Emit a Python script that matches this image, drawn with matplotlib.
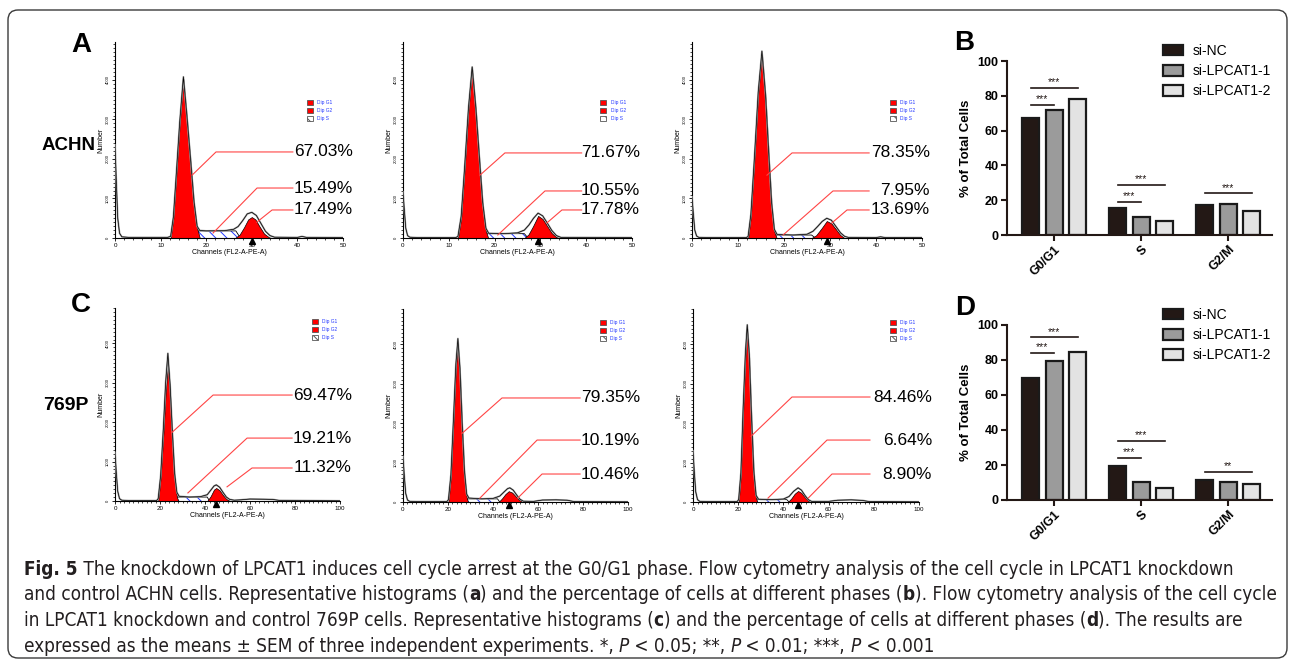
import numpy as np
import matplotlib.pyplot as plt
from matplotlib.patches import Rectangle, FancyBboxPatch
from matplotlib.transforms import IdentityTransform
from matplotlib.ticker import MultipleLocator
from matplotlib import font_manager

plt.rcParams['font.family'] = ['Liberation Sans', 'DejaVu Sans']
plt.rcParams['hatch.linewidth'] = 0.7

# ---- bar chart data (% of total cells) ----
phases = ['G0/G1', 'S', 'G2/M']
groups = ['si-NC', 'si-LPCAT1-1', 'si-LPCAT1-2']
achn_nc = [67.03, 15.49, 17.49]
achn_l1 = [71.67, 10.55, 17.78]
achn_l2 = [78.35, 7.95, 13.69]
p769_nc = [69.47, 19.21, 11.32]
p769_l1 = [79.35, 10.19, 10.46]
p769_l2 = [84.46, 6.64, 8.90]
# significance bars: (phase index, bar i, bar j, height, stars)
achn_sig = [(0, 0, 1, 75, '***'), (0, 0, 2, 84.5, '***'), (1, 0, 1, 19, '***'),
            (1, 0, 2, 29, '***'), (2, 0, 2, 24, '***')]
p769_sig = [(0, 0, 1, 84, '***'), (0, 0, 2, 93, '***'), (1, 0, 1, 24, '***'),
            (1, 0, 2, 33.7, '***'), (2, 0, 2, 16, '**')]

# ---- flow cytometry histograms (channel, count) ----
a1_outline = [(0,2350),(0.3,1400),(0.6,500),(1.0,120),(1.5,30),(3,15),(11.5,15),(12.2,40),(12.8,530),
              (13.4,1550),(14.2,2950),(15.0,4080),(15.8,3050),(16.6,1950),(17.3,950),(18.0,300),(18.6,190),
              (20,180),(24,185),(26,220),(27,290),(28,440),(29,610),(30,650),(31,570),(32,370),(33,170),
              (34,60),(35,20),(40,15),(41,40),(42,15),(50,10)]
a1_g1 = [(12.2,0),(12.8,500),(13.4,1500),(14.2,2900),(15.0,4030),(15.8,3000),(16.6,1900),(17.3,900),(18.0,250),(18.6,0)]
a1_s = [(17.0,0),(17.8,180),(26.5,180),(27.5,0)]
a1_g2 = [(26.3,0),(27.3,80),(28.3,270),(29.2,470),(30.0,530),(30.8,470),(31.7,290),(32.7,110),(33.8,15),(34.5,0)]

a2_outline = [(0,1160),(0.3,700),(0.6,250),(1.0,60),(1.5,20),(3,10),(11.5,10),(12.0,40),(12.7,550),(13.4,1700),
              (14.3,3300),(15.1,4330),(15.9,3300),(16.7,2000),(17.4,900),(18.1,250),(18.7,120),(22,110),(25,130),
              (26.5,200),(27.5,330),(28.5,500),(29.5,630),(30.5,560),(31.5,380),(32.5,190),(33.5,60),(34.5,15),(50,10)]
a2_g1 = [(12.0,0),(12.7,500),(13.4,1650),(14.3,3250),(15.1,4280),(15.9,3250),(16.7,1950),(17.4,850),(18.1,180),(18.6,0)]
a2_s = [(17.2,0),(18.0,110),(26.5,110),(27.3,0)]
a2_g2 = [(26.5,0),(27.4,90),(28.4,300),(29.5,560),(30.5,480),(31.5,300),(32.5,120),(33.5,20),(34.2,0)]

a3_outline = [(0,1040),(0.3,600),(0.6,200),(1.0,50),(1.5,15),(3,10),(11.8,10),(12.2,40),(12.8,600),(13.5,1900),
              (14.4,3700),(15.2,4730),(16.0,3600),(16.7,2100),(17.3,900),(17.9,220),(18.5,90),(22,75),(25,95),
              (26.3,170),(27.3,290),(28.3,420),(29.3,500),(30.3,450),(31.3,290),(32.3,130),(33.2,40),(34,15),
              (40,10),(41,30),(42,10),(50,10)]
a3_g1 = [(12.2,0),(12.8,550),(13.5,1850),(14.4,3650),(15.2,4680),(16.0,3550),(16.7,2050),(17.3,850),(17.9,160),(18.4,0)]
a3_s = [(17.5,0),(18.2,75),(26.0,75),(26.8,0)]
a3_g2 = [(26.0,0),(27.0,70),(28.2,250),(29.3,430),(30.3,370),(31.3,220),(32.2,80),(33.0,10),(33.5,0)]

c1_outline = [(0,1230),(0.6,700),(1.2,250),(2.0,60),(3,20),(6,10),(18.5,10),(19.2,60),(20.3,650),(21.5,1850),
              (22.5,3000),(23.5,3750),(24.5,2950),(25.5,1750),(26.5,700),(27.5,220),(28.5,120),(33,100),(38,110),
              (41,160),(42.5,270),(44,380),(45,410),(46.5,350),(48,220),(49.5,100),(51,40),(53,20),(56,30),
              (60,50),(66,45),(70,40),(73,15),(100,5)]
c1_g1 = [(19.2,0),(20.3,600),(21.5,1700),(22.5,2750),(23.5,3450),(24.5,2700),(25.5,1600),(26.5,600),(27.5,100),(28.2,0)]
c1_s = [(26.5,0),(27.5,100),(41,100),(42,0)]
c1_g2 = [(41,0),(42.5,120),(44,290),(45,330),(46.5,270),(48,150),(49.5,50),(51,5),(51.5,0)]

c2_outline = [(0,1150),(0.6,650),(1.2,220),(2.0,50),(3,15),(6,10),(19.5,10),(20.2,60),(21.3,700),(22.5,2200),
              (23.5,3500),(24.4,4150),(25.3,3400),(26.3,2000),(27.3,800),(28.3,200),(29.3,100),(35,80),(40,90),
              (43,150),(45,260),(46.5,340),(47.5,360),(49,300),(50.5,180),(52,70),(53.5,20),(58,15),(62,50),
              (68,55),(73,45),(76,10),(100,5)]
c2_g1 = [(20.2,0),(21.3,650),(22.5,2100),(23.5,3400),(24.4,4020),(25.3,3300),(26.3,1900),(27.3,700),(28.3,120),(28.9,0)]
c2_s = [(27.8,0),(28.8,80),(42,80),(43,0)]
c2_g2 = [(42.5,0),(44,90),(45.5,200),(47,275),(48.5,240),(50,150),(51.5,60),(53,5),(53.5,0)]

c3_outline = [(0,1300),(0.6,750),(1.2,260),(2.0,60),(3,15),(6,10),(19.5,10),(20.2,60),(21.2,750),(22.2,2400),
              (23.2,3800),(24.0,4500),(24.9,3750),(25.9,2150),(26.9,800),(27.9,170),(29,70),(35,60),(40,75),
              (42.5,140),(44.5,270),(46.5,360),(48,300),(49.5,170),(51,60),(52.5,15),(60,15),(64,45),(70,55),
              (75,40),(78,10),(100,5)]
c3_g1 = [(20.2,0),(21.2,700),(22.2,2300),(23.2,3700),(24.0,4400),(24.9,3650),(25.9,2050),(26.9,700),(27.9,100),(28.4,0)]
c3_s = [(27.5,0),(28.5,60),(41.5,60),(42.5,0)]
c3_g2 = [(42,0),(43.5,90),(45,210),(46.5,280),(48,230),(49.5,120),(51,30),(51.8,0)]

W, H = 1295, 666
fig = plt.figure(figsize=(W / 100, H / 100), dpi=100)


def px_axes(left, top, right, bottom):
    return fig.add_axes([left / W, 1 - bottom / H, (right - left) / W, (bottom - top) / H])


def histo(rect, xmax, ymax, outline, g1, s, g2, vals, leaders, line_end, text_right, leg_xy):
    ax = px_axes(*rect)
    sx, sy = zip(*s)
    ax.fill_between(sx, sy, facecolor='white', edgecolor='#2438ff', hatch='\\\\\\', lw=0, zorder=1)
    ax.plot(sx, sy, color='black', lw=0.6, zorder=1.5)
    for comp in (g1, g2):
        cx, cy = zip(*comp)
        ax.fill_between(cx, cy, facecolor='#ff0000', edgecolor='black', lw=0.5, zorder=2)
    ox, oy = zip(*outline)
    ax.plot(ox, oy, color='#a0a0a0', lw=1.3, zorder=3, solid_joinstyle='round')
    ax.plot(ox, oy, color='black', lw=0.5, zorder=4)
    gx, gy = zip(*g2)
    ax.plot([gx[int(np.argmax(gy))]], [-0.016 * ymax], marker='^', color='black', ms=5,
            clip_on=False, zorder=6)

    ax.set_xlim(0, xmax)
    ax.set_ylim(0, ymax)
    for sp in ['top', 'right']:
        ax.spines[sp].set_visible(False)
    for sp in ['left', 'bottom']:
        ax.spines[sp].set_linewidth(0.8)
    ax.xaxis.set_major_locator(MultipleLocator(xmax / 5))
    ax.xaxis.set_minor_locator(MultipleLocator(2))
    ax.yaxis.set_major_locator(MultipleLocator(1000))
    ax.yaxis.set_minor_locator(MultipleLocator(100))
    ax.tick_params(axis='x', which='major', labelsize=4.5, length=2.5, width=0.6, pad=1)
    ax.tick_params(axis='y', which='major', labelsize=3, length=2.5, width=0.6, pad=1, labelrotation=90)
    ax.tick_params(which='minor', length=1.2, width=0.5)
    for lbl in ax.get_yticklabels():
        lbl.set_va('center')
    ax.set_xlabel('Channels (FL2-A-PE-A)', fontsize=5, labelpad=0.5)
    ax.set_ylabel('Number', fontsize=5, labelpad=1)

    # small model legend
    lx, ly = leg_xy
    rw, rh = 6 / (rect[2] - rect[0]), 5 / (rect[3] - rect[1])
    dy = 8 / (rect[3] - rect[1])
    for i, (name, fc, hat) in enumerate([('Dip G1', '#ff0000', None), ('Dip G2', '#ff0000', None),
                                          ('Dip S', 'white', '\\\\\\')]):
        yy = ly - i * dy
        ax.add_patch(Rectangle((lx, yy - rh / 2), rw, rh, transform=ax.transAxes, facecolor=fc,
                               edgecolor='#555555', lw=0.6, hatch=hat, clip_on=False, zorder=5))
        ax.text(lx + rw + 0.02, yy, name, transform=ax.transAxes, fontsize=3.5, color='#2438ff',
                va='center', ha='left')

    inv = ax.transAxes.inverted()
    for (sx0, sy0, ex, ey), v in zip(leaders, vals):
        st = inv.transform(ax.transData.transform((sx0, sy0)))
        ax.plot([st[0], ex, line_end], [st[1], ey, ey], transform=ax.transAxes,
                color='#ff4545', lw=0.8, clip_on=False, zorder=7)
        ax.text(text_right, ey, f'{v:.2f}%', transform=ax.transAxes, ha='right', va='center',
                fontsize=12.5, color='black')
    return ax


def bars(rect, nc, l1, l2, sig):
    ax = px_axes(*rect)
    x = np.arange(len(phases))
    offs = [-0.27, 0, 0.27]
    cols = ['#231815', '#9b9b9b', '#e3e3e3']
    for vals, off, col, lab in zip([nc, l1, l2], offs, cols, groups):
        ax.bar(x + off, vals, 0.195, color=col, edgecolor='#1a1a1a', lw=1.6, label=lab, zorder=2)
    for g, i, j, y, txt in sig:
        ax.plot([g + offs[i], g + offs[j]], [y, y], color='#231815', lw=1.2)
        ax.text((2 * g + offs[i] + offs[j]) / 2, y + 0.3, txt, ha='center', va='bottom',
                fontsize=7.5, color='#231815')
    ax.set_xlim(-0.54, 2.5)
    ax.set_ylim(0, 100)
    ax.set_yticks(range(0, 101, 20))
    ax.set_xticks(x)
    ax.set_xticklabels(phases, rotation=45, ha='right', rotation_mode='anchor')
    for sp in ['top', 'right']:
        ax.spines[sp].set_visible(False)
    for sp in ['left', 'bottom']:
        ax.spines[sp].set_linewidth(1.5)
        ax.spines[sp].set_color('#231815')
    ax.tick_params(length=4, width=1.5, labelsize=9, pad=2, color='#231815')
    for lbl in ax.get_xticklabels() + ax.get_yticklabels():
        lbl.set_fontweight('bold')
    ax.set_ylabel('% of Total Cells', fontsize=9.5, fontweight='bold', labelpad=4)
    ax.legend(loc='upper left', bbox_to_anchor=(0.589, 1.098), frameon=False, fontsize=10,
              handlelength=1.45, handleheight=0.8, handletextpad=0.7, labelspacing=0.45,
              borderpad=0, borderaxespad=0)
    return ax


# row A / B : ACHN
histo((115, 42, 343, 238), 50, 4960, a1_outline, a1_g1, a1_s, a1_g2,
      [achn_nc[0], achn_nc[1], achn_nc[2]],
      [(16.9, 1590, 0.443, 0.439), (21.5, 126, 0.623, 0.255), (31.1, 400, 0.689, 0.143)],
      0.78, 1.044, (0.84, 0.69))
histo((403, 42, 632, 238), 50, 4960, a2_outline, a2_g1, a2_s, a2_g2,
      [achn_l1[0], achn_l1[1], achn_l1[2]],
      [(16.8, 1590, 0.445, 0.434), (20.7, 76, 0.62, 0.24), (31.4, 380, 0.694, 0.143)],
      0.78, 1.035, (0.86, 0.69))
histo((692, 42, 922, 238), 50, 4960, a3_outline, a3_g1, a3_s, a3_g2,
      [achn_l2[0], achn_l2[1], achn_l2[2]],
      [(16.3, 1590, 0.435, 0.434), (19.8, 76, 0.613, 0.24), (30.4, 380, 0.674, 0.143)],
      0.77, 1.035, (0.86, 0.69))
bars((1007, 61, 1272, 235), achn_nc, achn_l1, achn_l2, achn_sig)

# row C / D : 769P
histo((115, 308, 340, 501), 100, 4900, c1_outline, c1_g1, c1_s, c1_g2,
      [p769_nc[0], p769_nc[1], p769_nc[2]],
      [(25.3, 1740, 0.436, 0.549), (32.4, 205, 0.587, 0.326), (49.8, 360, 0.609, 0.171)],
      0.787, 1.053, (0.875, 0.93))
histo((403, 309, 628, 502), 100, 4900, c2_outline, c2_g1, c2_s, c2_g2,
      [p769_l1[0], p769_l1[1], p769_l1[2]],
      [(26.2, 1740, 0.44, 0.539), (34.2, 100, 0.596, 0.321), (51, 100, 0.618, 0.145)],
      0.787, 1.053, (0.875, 0.93))
histo((693, 309, 919, 502), 100, 4900, c3_outline, c3_g1, c3_s, c3_g2,
      [p769_l2[0], p769_l2[1], p769_l2[2]],
      [(25.7, 1670, 0.438, 0.544), (33.2, 100, 0.593, 0.321), (51, 100, 0.615, 0.145)],
      0.783, 1.058, (0.87, 0.93))
bars((1007, 325, 1272, 500), p769_nc, p769_l1, p769_l2, p769_sig)

# panel letters and cell line names
for s, x, y in [('A', 81, 45), ('B', 964, 43), ('C', 81, 305), ('D', 965, 308)]:
    fig.text(x / W, 1 - y / H, s, fontsize=20, fontweight='bold', ha='center', va='center')
fig.text(96 / W, 1 - 145 / H, 'ACHN', fontsize=13.5, fontweight='bold', ha='right', va='center')
fig.text(89 / W, 1 - 405 / H, '769P', fontsize=14, fontweight='bold', ha='right', va='center')

# rounded frame
fig.patches.append(FancyBboxPatch((8, H - 658), 1279, 648, boxstyle='round,pad=0,rounding_size=10',
                                  transform=IdentityTransform(), fill=False, edgecolor='#3a3a3a', lw=1))

# caption with mixed weights (narrow face when one is installed)
names = {f.name for f in font_manager.fontManager.ttflist}
cap_font = 'Liberation Sans Narrow' if 'Liberation Sans Narrow' in names else 'DejaVu Sans'
cap_col = '#231f20'
R, B, I = ('normal', 'normal'), ('bold', 'normal'), ('normal', 'italic')
caption = [
    [('Fig. 5', B), (' The knockdown of LPCAT1 induces cell cycle arrest at the G0/G1 phase. Flow cytometry '
                     'analysis of the cell cycle in LPCAT1 knockdown', R)],
    [('and control ACHN cells. Representative histograms (', R), ('a', B),
     (') and the percentage of cells at different phases (', R), ('b', B),
     ('). Flow cytometry analysis of the cell cycle', R)],
    [('in LPCAT1 knockdown and control 769P cells. Representative histograms (', R), ('c', B),
     (') and the percentage of cells at different phases (', R), ('d', B), ('). The results are', R)],
    [('expressed as the means \u00b1 SEM of three independent experiments. *, ', R), ('P', I),
     (' < 0.05; **, ', R), ('P', I), (' < 0.01; ***, ', R), ('P', I), (' < 0.001', R)],
]
renderer = fig.canvas.get_renderer()


def cap_text(x, y, s, style, size, **kw):
    return fig.text(x, y, s, fontsize=size, fontweight=style[0], fontstyle=style[1], family=cap_font,
                    fontstretch='condensed', **kw)


def seg_width(s, style, size):
    def w(txt):
        t = cap_text(0, 0, txt, style, size)
        ww = t.get_window_extent(renderer).width
        t.remove()
        return ww
    return w('x' + s + 'x') - w('xx')


base = 10
line2_w = sum(seg_width(s, st, base) for s, st in caption[1])
cap_size = base * 1252 / line2_w
for k, line in enumerate(caption):
    x = 24
    y = H - (575 + k * 25.5)
    for s, st in line:
        cap_text(x, y, s, st, cap_size, color=cap_col, transform=IdentityTransform(),
                 va='baseline', ha='left')
        x += seg_width(s, st, cap_size)

fig.savefig('out.png', dpi=100)
